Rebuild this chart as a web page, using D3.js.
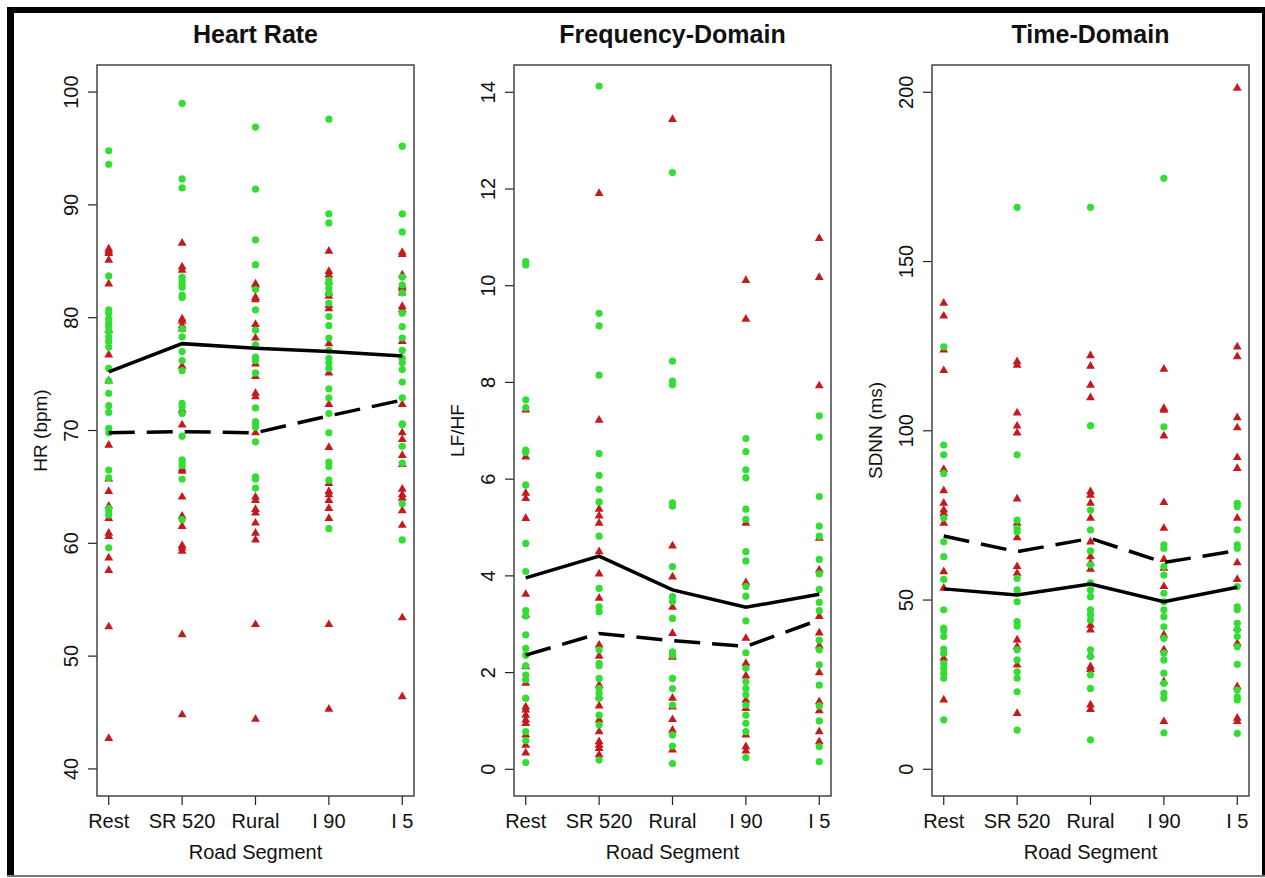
<!DOCTYPE html>
<html>
<head>
<meta charset="utf-8">
<script src="https://cdn.jsdelivr.net/npm/d3@7"></script>
<style>
  body { margin: 0; background: #fff; }
  svg text { font-family: "Liberation Sans", Arial, sans-serif; fill: #111; }
</style>
</head>
<body>
<svg id="chart" width="1265" height="878"></svg>
<script>
// heart rate / HRV by road segment, three panels

const SEGMENTS = ['Rest', 'SR 520', 'Rural', 'I 90', 'I 5'];

// ── Heart Rate (bpm) ──────────────────────────────────────────────────────────
const hrGreen = [
  [94.8,93.6,83.7,80.7,80.4,79.9,79.5,79.2,78.8,78.3,77.9,77.4,75.5,74.4,73.3,72.2,71.6,70.2,69.8,66.5,65.8,63.1,62.8,62.5,59.6],
  [99.0,92.3,91.5,83.6,83.3,83.0,82.7,82.0,81.8,79.0,78.3,77.0,76.2,75.3,72.4,72.1,71.5,69.5,67.4,67.2,66.9,65.7,62.1],
  [96.9,91.4,86.9,84.7,82.5,80.7,78.9,77.6,76.5,76.2,75.1,72.0,70.8,70.3,70.6,69.0,65.9,65.7,64.9],
  [97.6,89.2,88.4,83.3,83.0,82.6,82.2,81.3,80.1,79.3,78.2,77.1,76.4,76.0,75.5,73.7,72.9,71.5,69.8,67.2,66.8,65.6,61.3],
  [95.2,89.2,87.6,83.6,82.9,82.2,80.4,79.2,78.2,77.1,76.4,76.0,75.4,74.3,72.9,70.5,70.6,68.6,67.1,63.5,60.3]
];
const hrRed = [
  [86.1,85.9,85.7,85.1,83.0,78.9,76.7,74.4,68.7,65.7,64.6,63.3,62.2,60.9,60.6,58.7,57.6,52.6,42.7],
  [86.6,84.5,84.2,79.9,79.7,79.3,79.0,75.7,71.8,70.5,66.6,66.4,64.1,62.4,61.5,59.8,59.6,59.3,51.9,44.8],
  [83.0,82.9,81.8,81.6,79.4,78.2,75.9,74.8,73.3,73.0,69.8,64.1,63.8,63.0,62.7,61.8,60.9,60.3,52.8,44.4],
  [85.9,84.1,83.8,83.2,82.2,81.9,81.1,80.8,77.7,75.1,72.3,68.5,65.3,64.6,64.3,63.8,63.1,62.2,52.8,45.3],
  [85.8,85.6,83.8,82.8,82.6,82.2,81.0,80.7,77.9,72.3,69.8,69.2,67.8,67.0,64.8,64.3,64.0,62.9,61.6,53.4,46.4]
];
const hrSolid  = [75.2, 77.7, 77.3, 77.0, 76.6];
const hrDashed = [69.8, 69.9, 69.8, 71.3, 72.7];
const hrTicks  = [40, 50, 60, 70, 80, 90, 100];

// ── Frequency domain (LF/HF) ──────────────────────────────────────────────────
const lfGreen = [
  [10.50,10.43,7.64,7.48,6.60,6.55,5.88,4.67,4.09,3.28,3.17,2.78,2.50,2.36,2.14,1.95,1.85,1.47,0.78,0.59,0.14],
  [14.13,9.43,9.17,8.15,6.53,6.08,5.79,5.53,4.82,3.74,3.36,3.26,2.47,2.19,2.14,1.88,1.67,1.57,1.47,1.12,0.92,0.19],
  [12.34,8.44,8.03,7.95,5.51,5.44,4.19,3.57,3.47,3.12,2.43,2.36,1.88,1.67,1.33,0.71,0.48,0.12],
  [6.84,6.57,6.19,6.03,5.38,5.17,4.50,4.31,3.78,3.58,3.07,2.41,2.09,1.81,1.67,1.54,1.33,1.12,0.95,0.78,0.24],
  [7.31,6.87,5.64,5.03,4.82,4.34,4.04,3.72,3.45,3.28,2.67,2.47,2.16,1.74,1.31,1.00,0.47,0.16]
];
const lfRed = [
  [7.43,6.46,5.71,5.60,5.19,3.62,3.19,2.12,1.78,1.29,1.23,1.12,1.02,0.95,0.71,0.50,0.34],
  [11.91,7.22,5.38,5.24,5.09,4.50,4.04,3.54,2.57,2.34,1.74,1.50,1.31,1.02,0.78,0.57,0.50,0.43,0.30],
  [13.44,4.62,3.98,3.35,2.81,2.32,1.47,1.29,1.03,0.81,0.40],
  [10.11,9.31,5.09,3.86,2.71,2.19,1.93,1.43,1.26,0.71,0.47,0.38],
  [10.98,10.17,7.93,4.78,4.12,3.16,2.82,2.55,2.00,1.40,1.21,0.78,0.57]
];
const lfSolid  = [3.96, 4.41, 3.71, 3.35, 3.62];
const lfDashed = [2.36, 2.81, 2.66, 2.54, 3.09];
const lfTicks  = [0, 2, 4, 6, 8, 10, 12, 14];

// ── Time domain (SDNN, ms) ────────────────────────────────────────────────────
const sdGreen = [
  [124.8,95.8,92.9,87.4,74.2,67.2,62.8,56.1,47.1,41.7,40.9,39.2,35.5,34.3,31.3,29.8,28.4,26.9,14.6],
  [166.0,92.9,73.6,71.2,70.2,56.4,53.0,49.5,43.6,42.3,35.3,32.3,28.8,26.9,22.9,11.6],
  [166.0,101.5,76.6,70.7,64.5,60.4,55.1,53.0,51.0,47.1,45.6,44.1,35.3,33.3,27.9,23.9,8.7],
  [174.6,101.2,66.3,65.3,59.9,57.4,52.0,49.5,47.1,45.1,42.1,38.7,34.3,32.3,28.4,25.4,22.5,21.0,10.8],
  [78.6,77.6,70.7,66.3,65.3,54.0,48.0,47.1,43.1,41.2,39.2,36.2,31.0,23.4,21.4,20.5,10.6]
];
const sdRed = [
  [137.7,133.9,123.9,117.8,88.6,82.3,78.6,76.6,75.6,72.7,58.4,53.5,32.8,20.5],
  [120.4,119.4,105.3,101.4,99.4,79.9,72.7,68.4,59.9,57.9,38.2,36.2,30.8,16.5],
  [122.2,119.1,113.5,109.8,82.0,81.0,78.6,74.2,67.2,62.8,60.9,59.1,42.6,41.2,33.8,30.3,29.5,19.0,17.7],
  [118.2,106.6,106.1,98.5,78.8,71.2,62.0,59.4,54.0,39.7,35.3,25.9,14.1],
  [201.2,124.8,121.9,103.9,100.9,92.1,88.9,74.2,61.0,56.1,41.7,37.2,24.4,15.1,14.1]
];
const sdSolid  = [53.3, 51.5, 54.7, 49.5, 53.8];
const sdDashed = [68.9, 64.3, 68.2, 61.1, 64.6];
const sdTicks  = [0, 50, 100, 150, 200];

// ── Layout ────────────────────────────────────────────────────────────────────
const GREEN = '#33dd33';
const RED   = '#c41a1e';
const TOP = 65, BOTTOM = 796;

const panels = [
  { title: 'Heart Rate',       ylab: 'HR (bpm)',  left: 97,  y: [37.6, 102.4],  ticks: hrTicks,
    green: hrGreen, red: hrRed, solid: hrSolid, dashed: hrDashed },
  { title: 'Frequency-Domain', ylab: 'LF/HF',     left: 514, y: [-0.552, 14.564], ticks: lfTicks,
    green: lfGreen, red: lfRed, solid: lfSolid, dashed: lfDashed },
  { title: 'Time-Domain',      ylab: 'SDNN (ms)', left: 932, y: [-7.89, 208.06], ticks: sdTicks,
    green: sdGreen, red: sdRed, solid: sdSolid, dashed: sdDashed }
];
const PW = 317;

const svg = d3.select('#chart');

// outer frame (thick black top/left, thin right, grey bottom)
svg.append('rect').attr('x', 7).attr('y', 7).attr('width', 1258).attr('height', 6).attr('fill', '#000');
svg.append('rect').attr('x', 7).attr('y', 7).attr('width', 7).attr('height', 869).attr('fill', '#000');
svg.append('rect').attr('x', 1262).attr('y', 7).attr('width', 3).attr('height', 869).attr('fill', '#000');
svg.append('rect').attr('x', 7).attr('y', 875).attr('width', 1258).attr('height', 2).attr('fill', '#777');

const tri = d3.symbol().type(d3.symbolTriangle).size(34);

panels.forEach(p => {
  const x = d3.scaleLinear().domain([0.84, 5.16]).range([p.left, p.left + PW]);
  const y = d3.scaleLinear().domain(p.y).range([BOTTOM, TOP]);
  const g = svg.append('g');
  const cx = p.left + PW / 2;

  // title
  g.append('text')
    .attr('x', cx).attr('y', 43)
    .attr('text-anchor', 'middle')
    .style('font-size', '25px').style('font-weight', 'bold')
    .text(p.title);

  // y axis ticks + labels (R style, rotated)
  p.ticks.forEach(t => {
    g.append('line')
      .attr('x1', p.left - 9).attr('x2', p.left)
      .attr('y1', y(t)).attr('y2', y(t))
      .attr('stroke', '#222').attr('stroke-width', 1.2);
    g.append('text')
      .attr('transform', `translate(${p.left - 19},${y(t)}) rotate(-90)`)
      .attr('text-anchor', 'middle')
      .style('font-size', '20px')
      .text(t);
  });

  // x axis ticks + labels
  SEGMENTS.forEach((s, i) => {
    g.append('line')
      .attr('x1', x(i + 1)).attr('x2', x(i + 1))
      .attr('y1', BOTTOM).attr('y2', BOTTOM + 9)
      .attr('stroke', '#222').attr('stroke-width', 1.2);
    g.append('text')
      .attr('x', x(i + 1)).attr('y', 828)
      .attr('text-anchor', 'middle')
      .style('font-size', '20px')
      .text(s);
  });

  g.append('text')
    .attr('x', cx).attr('y', 859)
    .attr('text-anchor', 'middle')
    .style('font-size', '20px')
    .text('Road Segment');

  g.append('text')
    .attr('transform', `translate(${p.left - 50},${(TOP + BOTTOM) / 2}) rotate(-90)`)
    .attr('text-anchor', 'middle')
    .style('font-size', '19px')
    .text(p.ylab);

  // points: triangles first, then circles
  const redPts = p.red.flatMap((vals, i) => vals.map(v => ({ i: i + 1, v })));
  const greenPts = p.green.flatMap((vals, i) => vals.map(v => ({ i: i + 1, v })));

  g.selectAll('path.tri').data(redPts).enter().append('path')
    .attr('class', 'tri')
    .attr('d', tri)
    .attr('transform', d => `translate(${x(d.i)},${y(d.v)})`)
    .attr('fill', RED);

  g.selectAll('circle.pt').data(greenPts).enter().append('circle')
    .attr('class', 'pt')
    .attr('cx', d => x(d.i)).attr('cy', d => y(d.v))
    .attr('r', 3.6)
    .attr('fill', GREEN);

  // group mean lines
  const line = d3.line().x((d, i) => x(i + 1)).y(d => y(d));
  g.append('path').datum(p.solid)
    .attr('d', line).attr('fill', 'none')
    .attr('stroke', '#000').attr('stroke-width', 3.5);
  g.append('path').datum(p.dashed)
    .attr('d', line).attr('fill', 'none')
    .attr('stroke', '#000').attr('stroke-width', 3.5)
    .attr('stroke-dasharray', '26,12');

  // plot box
  g.append('rect')
    .attr('x', p.left).attr('y', TOP)
    .attr('width', PW).attr('height', BOTTOM - TOP)
    .attr('fill', 'none').attr('stroke', '#444').attr('stroke-width', 1.5);
});
</script>
</body>
</html>
